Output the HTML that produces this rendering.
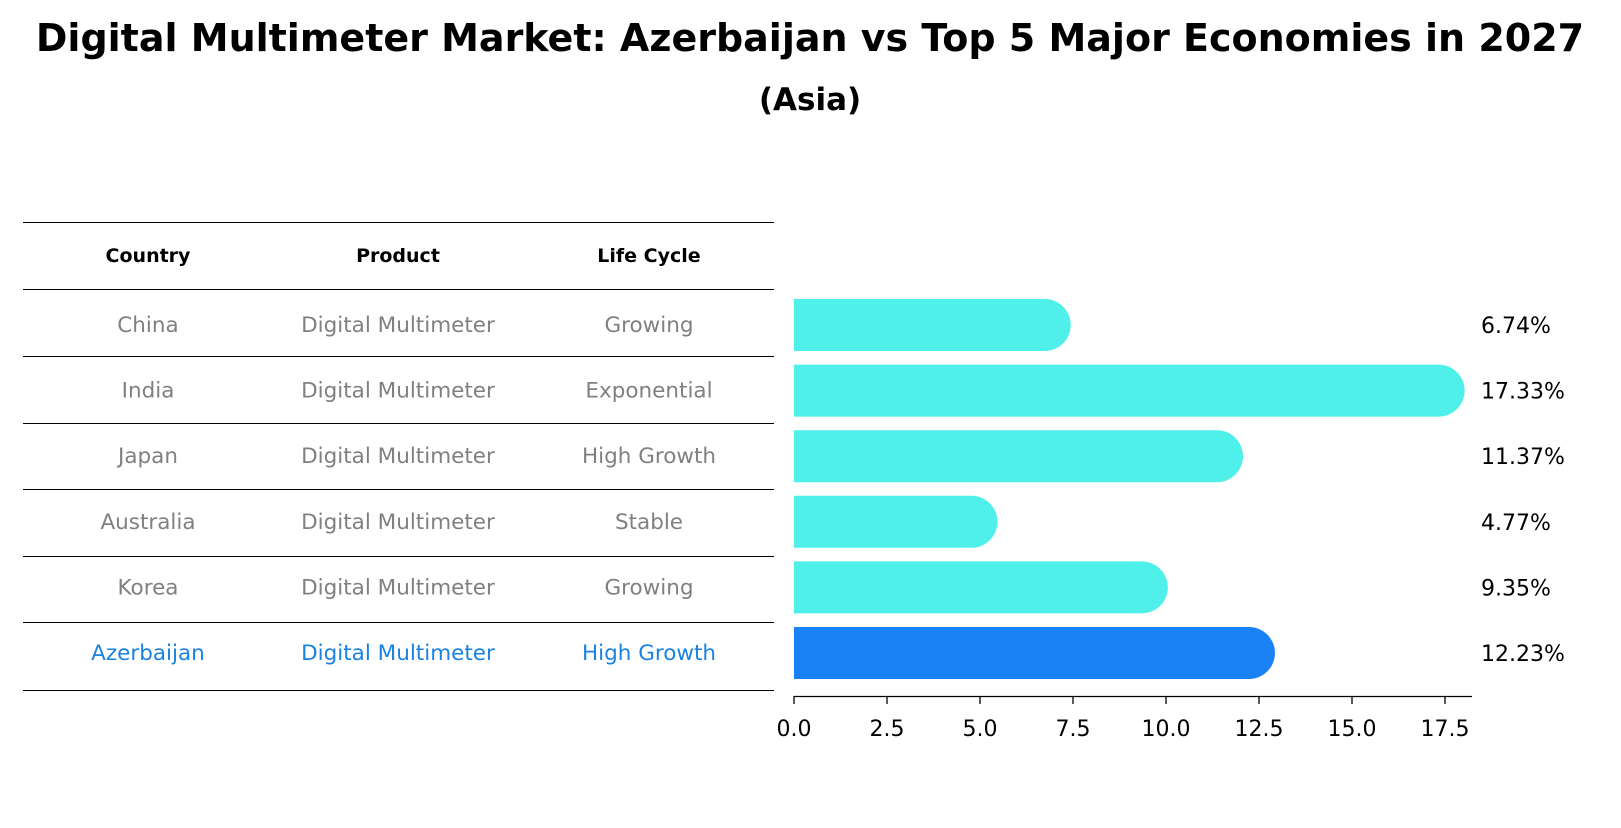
<!DOCTYPE html>
<html><head><meta charset="utf-8"><style>
body{margin:0;background:#fff;width:1621px;height:823px;overflow:hidden;font-family:"Liberation Sans","DejaVu Sans",sans-serif;}
</style></head><body>
<svg width="1621" height="823" style="font-family:'DejaVu Sans','Liberation Sans',sans-serif">
<text x="810" y="51" text-anchor="middle" font-size="38" font-weight="bold">Digital Multimeter Market: Azerbaijan vs Top 5 Major Economies in 2027</text>
<text x="810" y="110" text-anchor="middle" font-size="31" font-weight="bold">(Asia)</text>
<g id="table"></g>
<g id="bars"></g>
<g id="axis"></g>
</svg>
<script>
const countries=["China","India","Japan","Australia","Korea","Azerbaijan"];
const products=["Digital Multimeter","Digital Multimeter","Digital Multimeter","Digital Multimeter","Digital Multimeter","Digital Multimeter"];
const lifeCycles=["Growing","Exponential","High Growth","Stable","Growing","High Growth"];
const values=[6.74,17.33,11.37,4.77,9.35,12.23];
const ticks=[0,2.5,5,7.5,10,12.5,15,17.5];
const NS="http://www.w3.org/2000/svg";
const x0=794,scale=37.2,barH=52;
const xs=v=>x0+v*scale;
const rowY=i=>325+i*65.6;
function mk(tag,attrs,parent,text){const e=document.createElementNS(NS,tag);for(const k in attrs)e.setAttribute(k,attrs[k]);if(text!==undefined)e.textContent=text;parent.appendChild(e);return e;}
const tbl=document.getElementById('table');
const lines=[222,289,356,423,489,556,622,690];
lines.forEach(y=>{const l=mk('line',{x1:23,x2:774,y1:y+0.5,y2:y+0.5,stroke:'#000','stroke-width':1},tbl);

});
const cols=[148,398,649];
["Country","Product","Life Cycle"].forEach((h,j)=>{const t=mk('text',{x:cols[j],y:262,'text-anchor':'middle','font-size':19,'font-weight':'bold'},tbl,h);

});
countries.forEach((c,i)=>{const col=i===5?'#1a82e0':'#808080';
[c,products[i],lifeCycles[i]].forEach((s,j)=>{const t=mk('text',{x:cols[j],y:rowY(i)+7,'text-anchor':'middle','font-size':21.5,fill:col},tbl,s);

});});
const bars=document.getElementById('bars');
values.forEach((v,i)=>{const y=rowY(i)-barH/2,xe=xs(v),r=barH/2;
const col=i===5?'#1a82f5':'#4ff0ea';
const p=mk('path',{d:`M${x0},${y}H${xe}A${r},${r} 0 0 1 ${xe},${y+barH}H${x0}Z`,fill:col},bars);


const t=mk('text',{x:1481,y:rowY(i)+8,'font-size':22},bars,v.toFixed(2)+'%');

});
const ax=document.getElementById('axis');
const al=mk('line',{x1:x0,x2:1472,y1:696.5,y2:696.5,stroke:'#000','stroke-width':1.3},ax);


ticks.forEach(t=>{const x=xs(t);
const tl=mk('line',{x1:x,x2:x,y1:696,y2:704,stroke:'#000','stroke-width':1.3},ax);


const tx=mk('text',{x:x,y:736,'text-anchor':'middle','font-size':22},ax,t.toFixed(1));

});
</script>
</body></html>
